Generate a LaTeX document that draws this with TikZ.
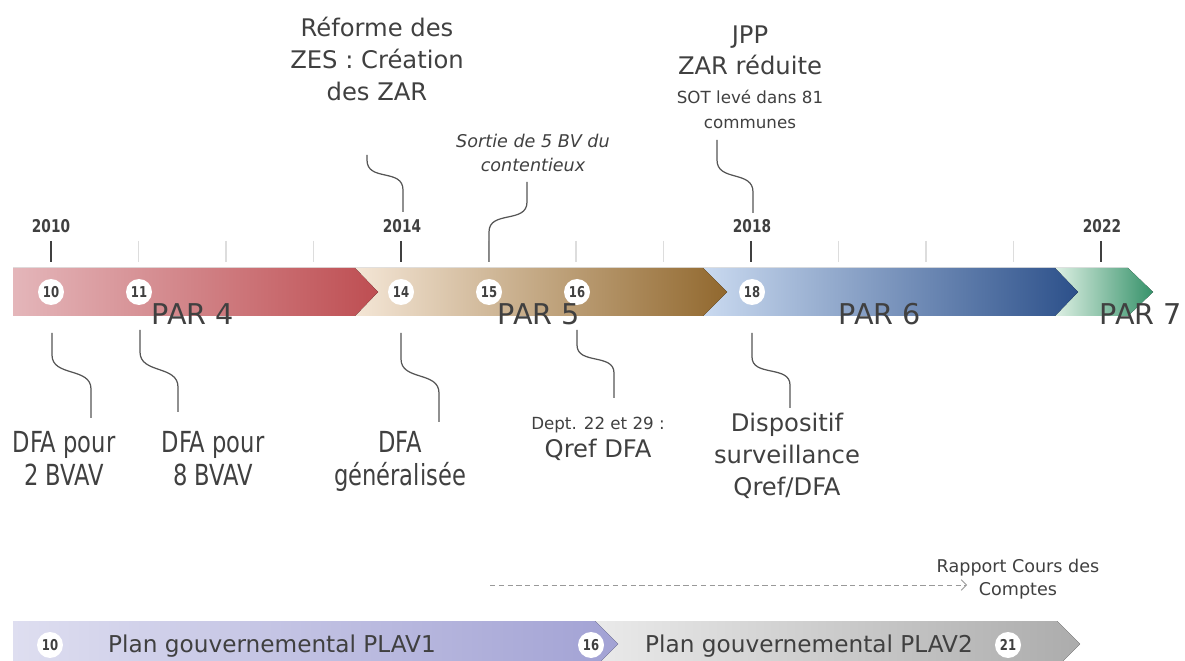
\documentclass[tikz,border=0pt]{standalone}
\usepackage{fontspec}
\setmainfont{DejaVu Sans}
\newfontfamily\condfont{DejaVu Sans}[FakeStretch=0.78]
\usetikzlibrary{arrows.meta}
\definecolor{txtgray}{RGB}{64,64,64}
\definecolor{linegray}{RGB}{85,85,85}
\definecolor{tickgray}{RGB}{221,221,221}
\definecolor{redlight}{RGB}{228,182,186}
\definecolor{reddark}{RGB}{190,78,82}
\definecolor{tanlight}{RGB}{244,230,214}
\definecolor{tandark}{RGB}{145,104,46}
\definecolor{bluelight}{RGB}{202,218,240}
\definecolor{bluedark}{RGB}{44,80,138}
\definecolor{greenlight}{RGB}{222,240,228}
\definecolor{greendark}{RGB}{54,146,106}
\definecolor{purplelight}{RGB}{222,222,240}
\definecolor{purpledark}{RGB}{162,162,212}
\definecolor{greylight}{RGB}{234,234,234}
\definecolor{greydark}{RGB}{172,172,172}

\begin{document}
\begin{tikzpicture}[x=0.02cm, y=-0.02cm,
    yearlbl/.style={anchor=base, inner sep=0pt, text=txtgray, font=\condfont\fontsize{10}{12}\selectfont\bfseries},
    numdot/.style={circle, fill=white, inner sep=0pt, minimum size=0.52cm, text=txtgray, font=\condfont\fontsize{8.5}{10}\selectfont\bfseries},
    parlbl/.style={anchor=base, inner sep=0pt, text=txtgray, font=\fontsize{16.3}{19}\selectfont},
    evtxt/.style={inner sep=0pt, align=center, text=txtgray, font=\fontsize{13.8}{18.1}\selectfont},
    evital/.style={inner sep=0pt, align=center, text=txtgray, font=\fontsize{10}{13.6}\selectfont\itshape},
    evsmall/.style={inner sep=0pt, align=center, text=txtgray, font=\fontsize{9.5}{14.2}\selectfont},
    evcond/.style={inner sep=0pt, align=center, text=txtgray, font=\condfont\fontsize{16.5}{18.7}\selectfont},
    plantxt/.style={anchor=base, inner sep=0pt, text=txtgray, font=\fontsize{13.2}{16}\selectfont},
    rapptxt/.style={inner sep=0pt, align=center, text=txtgray, font=\fontsize{10}{13}\selectfont},
    sline/.style={draw=linegray, line width=0.7pt},
    darktick/.style={draw=txtgray, line width=1.1pt},
    lighttick/.style={draw=tickgray, line width=0.6pt},
    dasharr/.style={draw=gray!80, line width=0.5pt, dash pattern=on 3pt off 2pt, -{Straight Barb[length=3pt,width=6pt]}}]
    \useasboundingbox (0,0) rectangle (1185,661);

    % PAR bands, drawn right to left so each tip lies on the next band
    \fill[left color=greenlight, right color=greendark] (1055,268) -- (1128,268) -- (1153,292) -- (1128,316) -- (1055,316) -- cycle;
    \fill[left color=bluelight, right color=bluedark] (703,268) -- (1055,268) -- (1078,292) -- (1055,316) -- (703,316) -- cycle;
    \fill[left color=tanlight, right color=tandark] (355,268) -- (703,268) -- (727,292) -- (703,316) -- (355,316) -- cycle;
    \fill[left color=redlight, right color=reddark] (13,268) -- (355,268) -- (378,292) -- (355,316) -- (13,316) -- cycle;

    % Year ticks
    \foreach \i in {0,...,12} {
        \pgfmathsetmacro{\tx}{51+87.5*\i}
        \ifnum\i=4 \def\tk{darktick}\else\ifnum\i=8 \def\tk{darktick}\else\ifnum\i=0 \def\tk{darktick}\else\ifnum\i=12 \def\tk{darktick}\else\def\tk{lighttick}\fi\fi\fi\fi
        \draw[\tk] (\tx,241) -- (\tx,262);
    }

    % Year labels
    \node[yearlbl] (y2010) at (51,233) {2010};
    \node[yearlbl] (y2014) at (402,233) {2014};
    \node[yearlbl] (y2018) at (752,233) {2018};
    \node[yearlbl] (y2022) at (1102,233) {2022};

    % Numbered dots on the bands
    \node[numdot] (n10) at (51,292) {10};
    \node[numdot] (n11) at (139,292) {11};
    \node[numdot] (n14) at (401,292) {14};
    \node[numdot] (n15) at (489,292) {15};
    \node[numdot] (n16) at (577,292) {16};
    \node[numdot] (n18) at (752,292) {18};

    % PAR labels
    \node[parlbl] (par4) at (193,325) {PAR 4};
    \node[parlbl] (par5) at (539,325) {PAR 5};
    \node[parlbl] (par6) at (880,325) {PAR 6};
    \node[parlbl] (par7) at (1141,325) {PAR 7};

    % Events above the timeline
    \node[evtxt, anchor=north] (reforme) at (377,17) {Réforme des\\ZES : Création\\des ZAR};
    \node[evital, anchor=north] (sortie) at (533,134) {Sortie de 5 BV du\\contentieux};
    \node[evtxt, anchor=north] (jpp) at (750,25) {JPP\\ZAR réduite};
    \node[evsmall, anchor=north] (sot) at (750,90) {SOT levé dans 81\\communes};

    % Events below the timeline
    \node[evcond, anchor=north] (dfa2) at (64,431) {DFA pour\\2 BVAV};
    \node[evcond, anchor=north] (dfa8) at (213,431) {DFA pour\\8 BVAV};
    \node[evcond, anchor=north] (dfagen) at (400,431) {DFA\\généralisée};
    \node[evsmall, anchor=base] (dept) at (598,430) {Dept. 22 et 29 :};
    \node[evtxt, anchor=base] (qref) at (598,458) {Qref DFA};
    \node[evtxt, anchor=north] (dispo) at (787,413) {Dispositif\\surveillance\\Qref/DFA};

    % Connector ends
    \coordinate (reformeA) at (367,155); \coordinate (reformeB) at (403,212);
    \coordinate (sortieA) at (527,182);  \coordinate (sortieB) at (489,262);
    \coordinate (jppA) at (717,140);     \coordinate (jppB) at (753,213);
    \coordinate (dfa2A) at (52,333);     \coordinate (dfa2B) at (91,418);
    \coordinate (dfa8A) at (140,330);    \coordinate (dfa8B) at (178,412);
    \coordinate (dfagenA) at (401,333);  \coordinate (dfagenB) at (439,422);
    \coordinate (deptA) at (577,330);    \coordinate (deptB) at (614,398);
    \coordinate (dispoA) at (752,333);   \coordinate (dispoB) at (790,408);

    % Wavy connectors
    \draw[sline] (reformeA) -- (367,160) .. controls (367,182) and (403,168) .. (403,190) -- (reformeB);
    \draw[sline] (sortieA) -- (527,202) .. controls (527,224) and (489,210) .. (489,232) -- (sortieB);
    \draw[sline] (jppA) -- (717,160) .. controls (717,182) and (753,170) .. (753,192) -- (jppB);
    \draw[sline] (dfa2A) -- (52,355) .. controls (52,377) and (91,367) .. (91,389) -- (dfa2B);
    \draw[sline] (dfa8A) -- (140,352) .. controls (140,374) and (178,365) .. (178,387) -- (dfa8B);
    \draw[sline] (dfagenA) -- (401,359) .. controls (401,381) and (439,371) .. (439,393) -- (dfagenB);
    \draw[sline] (deptA) -- (577,345) .. controls (577,365) and (614,353) .. (614,373) -- (deptB);
    \draw[sline] (dispoA) -- (752,357) .. controls (752,377) and (790,365) .. (790,385) -- (dispoB);

    % Rapport Cours des Comptes
    \node[rapptxt, anchor=north] (rapport) at (1018,559) {Rapport Cours des\\Comptes};
    \coordinate (dashA) at (490,585);
    \coordinate (dashB) at (967,585);
    \draw[dasharr] (dashA) -- (dashB);

    % Government plans
    \fill[left color=greylight, right color=greydark] (595,621) -- (1057,621) -- (1080,644) -- (1057,667) -- (595,667) -- cycle;
    \fill[left color=purplelight, right color=purpledark] (13,621) -- (595,621) -- (618,644) -- (595,667) -- (13,667) -- cycle;
    \node[numdot] (b10) at (50,645) {10};
    \node[numdot] (b16) at (591,645) {16};
    \node[numdot] (b21) at (1008,645) {21};
    \node[plantxt] (plav1) at (272,652) {Plan gouvernemental PLAV1};
    \node[plantxt] (plav2) at (809,652) {Plan gouvernemental PLAV2};
\end{tikzpicture}
\end{document}
